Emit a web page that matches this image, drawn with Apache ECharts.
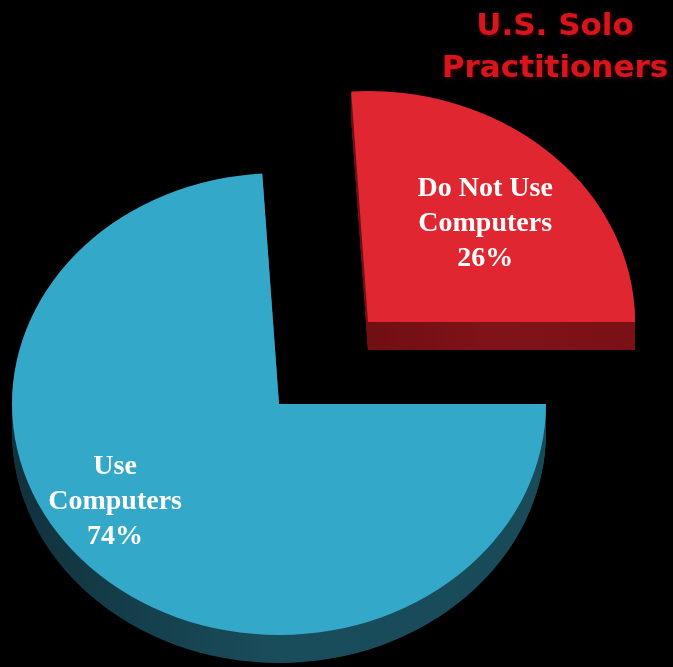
<!DOCTYPE html>
<html>
<head>
<meta charset="utf-8">
<script src="https://cdn.jsdelivr.net/npm/echarts@6/dist/echarts.min.js"></script>
<style>
  html, body { margin: 0; padding: 0; background: #000; }
  #chart { width: 673px; height: 667px; }
</style>
</head>
<body>
<div id="chart"></div>
<script>
// data
var sliceNames = ['Use\nComputers', 'Do Not Use\nComputers'];
var sliceShares = [74, 26];
var sliceExplode = [0, 130];

// look
var topColors = ['#34a8c8', '#e02630'];
var sideColors = [
  ['#10323d', '#1a4d5c', '#184a58'],
  ['#6e0e14', '#7f1319', '#7a1117']
];
var labelAngle = [145.5, 316];   // degrees, screen, clockwise from 3 o'clock
var labelFrac = [0.745, 0.61];

var centerX = 279, centerY = 404;
var radiusX = 267, scaleY = 231 / 267;
var depth = 28;

var total = sliceShares.reduce(function (a, b) { return a + b; }, 0);
var startAngles = [];
var acc = 0;
sliceShares.forEach(function (v) {
  startAngles.push(acc / total * Math.PI * 2);
  acc += v;
});

function renderSlice(params, api) {
  var i = params.dataIndex;
  var value = api.value(0);
  var a0 = startAngles[i];
  var a1 = a0 + value / total * Math.PI * 2;
  var mid = (a0 + a1) / 2;
  var ox = Math.cos(mid) * sliceExplode[i];
  var oy = Math.sin(mid) * sliceExplode[i] * scaleY;
  var cx = centerX + ox, cy = centerY + oy;
  var shape = { cx: 0, cy: 0, r0: 0, r: radiusX, startAngle: a0, endAngle: a1, clockwise: true };
  var children = [];
  var sc = sideColors[i];
  for (var k = depth; k >= 1; k--) {
    children.push({
      type: 'sector', x: cx, y: cy + k, scaleY: scaleY, shape: shape,
      style: {
        fill: { type: 'linear', x: 0, y: 0, x2: 1, y2: 0,
          colorStops: [{ offset: 0, color: sc[0] }, { offset: 0.5, color: sc[1] }, { offset: 1, color: sc[2] }] }
      }
    });
  }
  children.push({
    type: 'sector', x: cx, y: cy, scaleY: scaleY, shape: shape,
    style: { fill: topColors[i] }
  });
  var la = labelAngle[i] * Math.PI / 180;
  children.push({
    type: 'text',
    x: cx + Math.cos(la) * radiusX * labelFrac[i],
    y: cy + Math.sin(la) * radiusX * labelFrac[i] * scaleY,
    style: {
      text: sliceNames[i] + '\n' + value + '%',
      align: 'center', verticalAlign: 'middle',
      fill: '#ffffff',
      fontFamily: '"Liberation Serif", "Times New Roman", serif',
      fontWeight: 'bold', fontSize: 28, lineHeight: 35
    }
  });
  return { type: 'group', children: children };
}

var chart = echarts.init(document.getElementById('chart'));
chart.setOption({
  backgroundColor: '#000000',
  animation: false,
  title: {
    text: 'U.S. Solo\nPractitioners',
    left: 555, top: 6, padding: 0,
    textAlign: 'center',
    textStyle: {
      color: '#d8141c',
      fontFamily: '"DejaVu Sans", sans-serif',
      fontWeight: 'bold', fontSize: 31, lineHeight: 42,
      textShadowColor: '#3a0003', textShadowBlur: 4,
      textShadowOffsetX: 2, textShadowOffsetY: 2
    }
  },
  series: [{
    type: 'custom',
    coordinateSystem: 'none',
    silent: true,
    renderItem: renderSlice,
    data: sliceShares.map(function (v) { return [v]; })
  }]
});
</script>
</body>
</html>
